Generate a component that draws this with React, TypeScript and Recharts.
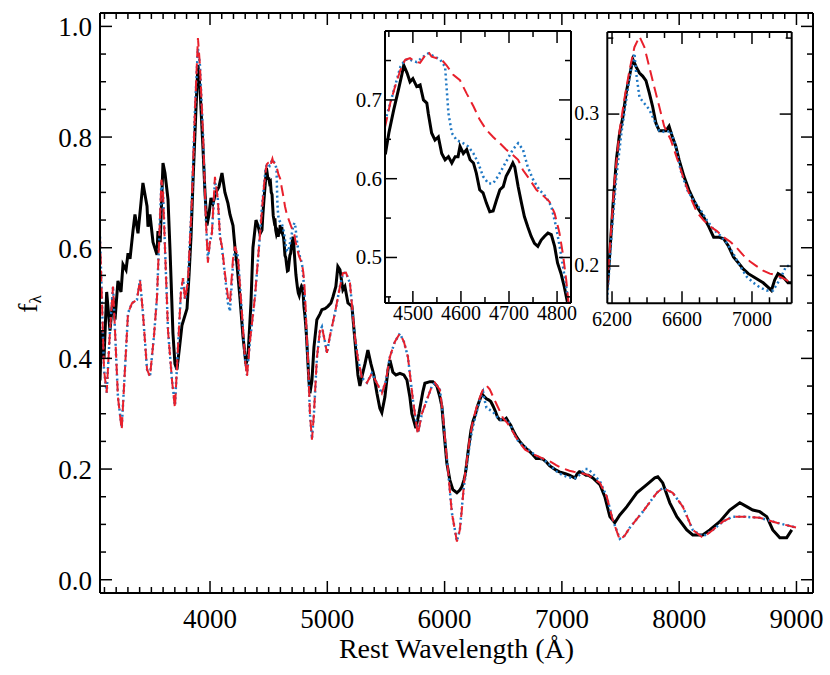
import React from 'react';
import { LineChart, Line, XAxis, YAxis } from 'recharts';

// ---------------- data ----------------
// observed spectrum (black)
const obsWave = [
  3062, 3076, 3096, 3119, 3147, 3173, 3190, 3215, 3241, 3258, 3284, 3301, 3318, 3343, 3360, 3386,
  3428, 3463, 3471, 3488, 3514, 3548, 3556, 3575, 3599, 3616, 3642, 3659, 3684, 3701, 3718, 3740,
  3761, 3804, 3821, 3838, 3855, 3880, 3897, 3914, 3940, 3957, 3974, 3991, 4008, 4025, 4051, 4076,
  4102, 4127, 4153, 4170, 4196, 4213, 4230, 4255, 4281, 4306, 4323, 4349, 4366, 4392, 4409, 4426,
  4443, 4450, 4460, 4470, 4477, 4481, 4488, 4494, 4500, 4508, 4515, 4522, 4529, 4532, 4539, 4546,
  4553, 4560, 4567, 4574, 4581, 4588, 4594, 4598, 4605, 4612, 4619, 4626, 4632, 4639, 4646, 4653,
  4660, 4667, 4674, 4681, 4688, 4694, 4701, 4708, 4712, 4719, 4726, 4732, 4739, 4746, 4753, 4760,
  4767, 4774, 4781, 4788, 4795, 4801, 4808, 4815, 4822, 4843, 4852, 4869, 4886, 4911, 4937, 4954,
  4980, 5005, 5031, 5048, 5073, 5090, 5108, 5133, 5150, 5176, 5210, 5235, 5261, 5278, 5295, 5321,
  5346, 5372, 5397, 5423, 5448, 5465, 5491, 5517, 5534, 5559, 5585, 5619, 5653, 5679, 5704, 5721,
  5755, 5781, 5815, 5832, 5875, 5900, 5934, 5960, 5977, 5994, 6019, 6045, 6070, 6105, 6130, 6147,
  6165, 6177, 6187, 6206, 6225, 6243, 6262, 6281, 6300, 6319, 6338, 6357, 6375, 6394, 6413, 6432,
  6451, 6470, 6489, 6508, 6526, 6545, 6564, 6583, 6611, 6640, 6668, 6696, 6725, 6753, 6781, 6810,
  6838, 6866, 6894, 6923, 6951, 6979, 7008, 7036, 7064, 7093, 7111, 7130, 7149, 7177, 7206, 7225,
  7264, 7324, 7366, 7409, 7451, 7494, 7554, 7639, 7724, 7792, 7818, 7860, 7920, 7980, 8065, 8116,
  8201, 8261, 8346, 8431, 8517, 8576, 8627, 8687, 8747, 8798, 8858, 8917, 8960,
];
const obsFlux = [
  0.36, 0.45, 0.40, 0.52, 0.45, 0.51, 0.47, 0.54, 0.52, 0.57, 0.56, 0.59, 0.58, 0.63, 0.66, 0.626,
  0.717, 0.675, 0.638, 0.66, 0.61, 0.587, 0.63, 0.61, 0.753, 0.735, 0.687, 0.596, 0.445, 0.39, 0.38, 0.42,
  0.46, 0.49, 0.55, 0.62, 0.72, 0.85, 0.93, 0.89, 0.78, 0.70, 0.64, 0.66, 0.69, 0.68, 0.70, 0.71,
  0.735, 0.70, 0.68, 0.66, 0.64, 0.60, 0.57, 0.51, 0.44, 0.39, 0.40, 0.50, 0.60, 0.65, 0.64, 0.625,
  0.632, 0.658, 0.687, 0.713, 0.732, 0.744, 0.734, 0.723, 0.727, 0.717, 0.719, 0.70, 0.696, 0.683, 0.658, 0.649,
  0.653, 0.632, 0.624, 0.628, 0.62, 0.628, 0.628, 0.641, 0.632, 0.637, 0.624, 0.62, 0.607, 0.586, 0.582, 0.569,
  0.558, 0.559, 0.573, 0.586, 0.59, 0.603, 0.611, 0.62, 0.615, 0.59, 0.569, 0.552, 0.539, 0.527, 0.518, 0.514,
  0.522, 0.527, 0.531, 0.529, 0.514, 0.493, 0.48, 0.463, 0.442, 0.36, 0.337, 0.36, 0.42, 0.47, 0.48, 0.488,
  0.49, 0.494, 0.50, 0.511, 0.53, 0.566, 0.56, 0.524, 0.53, 0.50, 0.494, 0.434, 0.37, 0.35, 0.367, 0.39,
  0.415, 0.39, 0.37, 0.337, 0.31, 0.302, 0.33, 0.379, 0.397, 0.375, 0.37, 0.373, 0.37, 0.361, 0.33, 0.30,
  0.274, 0.30, 0.34, 0.355, 0.358, 0.358, 0.35, 0.33, 0.313, 0.27, 0.211, 0.18, 0.163, 0.157, 0.162, 0.168,
  0.18, 0.191, 0.208, 0.241, 0.27, 0.287, 0.298, 0.314, 0.325, 0.336, 0.331, 0.327, 0.325, 0.322, 0.314, 0.305,
  0.294, 0.289, 0.289, 0.289, 0.292, 0.285, 0.279, 0.27, 0.259, 0.25, 0.243, 0.237, 0.232, 0.226, 0.219, 0.219,
  0.218, 0.213, 0.206, 0.202, 0.198, 0.195, 0.193, 0.191, 0.189, 0.186, 0.184, 0.191, 0.195, 0.193, 0.189, 0.189,
  0.184, 0.172, 0.15, 0.114, 0.103, 0.117, 0.132, 0.157, 0.172, 0.184, 0.186, 0.175, 0.139, 0.114, 0.09, 0.081,
  0.081, 0.09, 0.105, 0.126, 0.139, 0.132, 0.126, 0.123, 0.114, 0.09, 0.076, 0.076, 0.09,
];

// model A (red dashed)
const modelAWave = [
  3062, 3079, 3096, 3119, 3147, 3173, 3190, 3215, 3247, 3267, 3301, 3335, 3377, 3403, 3428, 3463,
  3488, 3522, 3548, 3573, 3586, 3599, 3616, 3642, 3676, 3701, 3727, 3752, 3770, 3787, 3812, 3846,
  3872, 3897, 3914, 3940, 3965, 3982, 3999, 4016, 4042, 4067, 4085, 4102, 4127, 4153, 4170, 4196,
  4213, 4238, 4272, 4298, 4315, 4340, 4383, 4417, 4443, 4453, 4463, 4474, 4484, 4494, 4505, 4515,
  4526, 4532, 4539, 4550, 4560, 4570, 4584, 4598, 4612, 4626, 4639, 4653, 4667, 4681, 4694, 4708,
  4719, 4729, 4743, 4757, 4770, 4784, 4795, 4805, 4812, 4819, 4824, 4835, 4852, 4869, 4886, 4911,
  4937, 4954, 4980, 4997, 5022, 5065, 5108, 5133, 5159, 5193, 5235, 5261, 5295, 5338, 5380, 5423,
  5465, 5500, 5534, 5576, 5619, 5653, 5687, 5730, 5772, 5806, 5849, 5892, 5917, 5960, 5985, 6002,
  6028, 6062, 6105, 6130, 6147, 6168, 6187, 6215, 6243, 6272, 6300, 6328, 6357, 6385, 6413, 6441,
  6470, 6498, 6536, 6574, 6611, 6649, 6687, 6725, 6762, 6800, 6838, 6876, 6913, 6951, 6989, 7026,
  7064, 7102, 7140, 7177, 7225, 7324, 7383, 7434, 7494, 7537, 7579, 7690, 7809, 7860, 7945, 8031,
  8116, 8201, 8287, 8372, 8457, 8542, 8687, 8832, 9003,
];
const modelAFlux = [
  0.62, 0.50, 0.38, 0.338, 0.45, 0.53, 0.45, 0.33, 0.271, 0.35, 0.482, 0.50, 0.506, 0.542, 0.482, 0.38,
  0.367, 0.44, 0.511, 0.65, 0.723, 0.70, 0.60, 0.45, 0.36, 0.31, 0.42, 0.52, 0.545, 0.506, 0.54, 0.687,
  0.85, 0.979, 0.93, 0.807, 0.65, 0.573, 0.61, 0.626, 0.728, 0.687, 0.62, 0.602, 0.554, 0.511, 0.50, 0.58,
  0.602, 0.584, 0.482, 0.40, 0.367, 0.43, 0.511, 0.60, 0.668, 0.696, 0.717, 0.738, 0.751, 0.753, 0.749, 0.747,
  0.757, 0.761, 0.755, 0.753, 0.751, 0.744, 0.732, 0.725, 0.708, 0.692, 0.675, 0.662, 0.653, 0.645, 0.637, 0.63,
  0.624, 0.611, 0.599, 0.586, 0.579, 0.571, 0.556, 0.531, 0.505, 0.472, 0.442, 0.40, 0.30, 0.253, 0.30, 0.40,
  0.45, 0.457, 0.43, 0.41, 0.44, 0.482, 0.53, 0.554, 0.555, 0.536, 0.439, 0.40, 0.365, 0.356, 0.373, 0.355,
  0.337, 0.36, 0.403, 0.43, 0.445, 0.43, 0.403, 0.325, 0.262, 0.30, 0.325, 0.35, 0.356, 0.343, 0.30, 0.258,
  0.20, 0.121, 0.069, 0.09, 0.126, 0.18, 0.211, 0.257, 0.289, 0.311, 0.329, 0.344, 0.351, 0.344, 0.331, 0.318,
  0.305, 0.292, 0.283, 0.27, 0.257, 0.245, 0.235, 0.23, 0.226, 0.223, 0.219, 0.216, 0.212, 0.207, 0.203, 0.2,
  0.197, 0.195, 0.194, 0.192, 0.189, 0.175, 0.15, 0.108, 0.072, 0.08, 0.094, 0.123, 0.157, 0.166, 0.157, 0.132,
  0.09, 0.076, 0.09, 0.105, 0.114, 0.114, 0.112, 0.103, 0.094,
];

// model B (blue dotted)
const modelBWave = [
  3062, 3079, 3096, 3119, 3147, 3173, 3190, 3215, 3247, 3267, 3301, 3335, 3377, 3403, 3428, 3463,
  3488, 3522, 3548, 3573, 3586, 3599, 3616, 3642, 3676, 3701, 3727, 3752, 3770, 3787, 3812, 3846,
  3872, 3897, 3914, 3940, 3965, 3982, 3999, 4016, 4042, 4067, 4085, 4102, 4127, 4153, 4170, 4196,
  4213, 4238, 4272, 4298, 4315, 4340, 4383, 4417, 4443, 4453, 4474, 4484, 4494, 4508, 4522, 4532,
  4545, 4557, 4567, 4570, 4574, 4581, 4591, 4605, 4615, 4626, 4636, 4646, 4657, 4667, 4677, 4688,
  4698, 4708, 4719, 4729, 4739, 4750, 4763, 4777, 4788, 4798, 4808, 4819, 4824, 4835, 4852, 4869,
  4886, 4911, 4937, 4954, 4980, 4997, 5022, 5065, 5108, 5133, 5159, 5193, 5235, 5261, 5295, 5338,
  5380, 5423, 5465, 5500, 5534, 5576, 5619, 5653, 5687, 5730, 5772, 5806, 5849, 5892, 5917, 5960,
  5985, 6002, 6028, 6062, 6105, 6130, 6147, 6165, 6177, 6196, 6225, 6253, 6281, 6309, 6328, 6338,
  6357, 6385, 6413, 6441, 6470, 6508, 6536, 6564, 6592, 6630, 6668, 6706, 6743, 6781, 6819, 6857,
  6894, 6932, 6970, 7008, 7045, 7083, 7121, 7158, 7196, 7225, 7324, 7383, 7434, 7494, 7537, 7579,
  7690, 7809, 7860, 7945, 8031, 8116, 8201, 8287, 8372, 8457, 8542, 8687, 8832, 9003,
];
const modelBFlux = [
  0.62, 0.50, 0.38, 0.338, 0.45, 0.53, 0.45, 0.33, 0.275, 0.35, 0.482, 0.50, 0.506, 0.542, 0.482, 0.38,
  0.367, 0.44, 0.511, 0.65, 0.72, 0.70, 0.60, 0.45, 0.36, 0.315, 0.42, 0.52, 0.545, 0.506, 0.54, 0.687,
  0.85, 0.96, 0.93, 0.807, 0.65, 0.58, 0.61, 0.626, 0.72, 0.687, 0.62, 0.60, 0.55, 0.50, 0.485, 0.57,
  0.60, 0.584, 0.482, 0.40, 0.37, 0.43, 0.511, 0.60, 0.675, 0.696, 0.742, 0.751, 0.751, 0.748, 0.755, 0.759,
  0.755, 0.751, 0.742, 0.717, 0.683, 0.658, 0.649, 0.645, 0.641, 0.632, 0.62, 0.603, 0.594, 0.594, 0.603, 0.615,
  0.626, 0.637, 0.645, 0.637, 0.615, 0.599, 0.586, 0.577, 0.565, 0.539, 0.505, 0.463, 0.44, 0.40, 0.30, 0.255,
  0.30, 0.40, 0.45, 0.457, 0.43, 0.41, 0.44, 0.482, 0.53, 0.554, 0.555, 0.536, 0.439, 0.40, 0.365, 0.356,
  0.373, 0.355, 0.337, 0.36, 0.403, 0.43, 0.445, 0.43, 0.403, 0.325, 0.265, 0.30, 0.325, 0.35, 0.356, 0.343,
  0.30, 0.258, 0.20, 0.121, 0.07, 0.09, 0.13, 0.17, 0.186, 0.219, 0.259, 0.287, 0.309, 0.331, 0.34, 0.327,
  0.311, 0.307, 0.303, 0.296, 0.289, 0.288, 0.289, 0.279, 0.263, 0.25, 0.243, 0.237, 0.23, 0.224, 0.22, 0.215,
  0.208, 0.2, 0.193, 0.189, 0.186, 0.184, 0.184, 0.191, 0.2, 0.2, 0.178, 0.15, 0.108, 0.074, 0.08, 0.094,
  0.123, 0.157, 0.166, 0.157, 0.132, 0.09, 0.078, 0.09, 0.105, 0.114, 0.114, 0.112, 0.103, 0.094,
];

// axis ticks
const mainXMajor = [4000, 5000, 6000, 7000, 8000, 9000];
const mainXMinor = [3100, 3200, 3300, 3400, 3500, 3600, 3700, 3800, 3900, 4100, 4200, 4300, 4400, 4500, 4600, 4700, 4800, 4900,
  5100, 5200, 5300, 5400, 5500, 5600, 5700, 5800, 5900, 6100, 6200, 6300, 6400, 6500, 6600, 6700, 6800, 6900,
  7100, 7200, 7300, 7400, 7500, 7600, 7700, 7800, 7900, 8100, 8200, 8300, 8400, 8500, 8600, 8700, 8800, 8900, 9100];
const mainYMajor = [0, 0.2, 0.4, 0.6, 0.8, 1.0];
const mainYMinor = [0.05, 0.1, 0.15, 0.25, 0.3, 0.35, 0.45, 0.5, 0.55, 0.65, 0.7, 0.75, 0.85, 0.9, 0.95];
const in1XMajor = [4500, 4600, 4700, 4800];
const in1XMinor = [4450, 4550, 4650, 4750];
const in1YMajor = [0.5, 0.6, 0.7];
const in1YMinor = [0.45, 0.55, 0.65, 0.75];
const in2XMajor = [6200, 6600, 7000];
const in2XMinor = [6300, 6400, 6500, 6700, 6800, 6900, 7100, 7200];
const in2YMajor = [0.2, 0.3];
const in2YMinor = [0.25, 0.35];

const xTitle = 'Rest Wavelength (Å)';

// ---------------- helpers ----------------
const toData = (w: number[], f: number[]) => w.map((x, i) => ({ w: x, f: f[i] }));
const obsData = toData(obsWave, obsFlux);
const modelAData = toData(modelAWave, modelAFlux);
const modelBData = toData(modelBWave, modelBFlux);

const FONT = '"Liberation Serif", "Times New Roman", Times, serif';
const BLACK = '#000000';
const RED = '#e8202c';
const BLUE = '#1f78c4';

type Side = 'bottom' | 'top' | 'left' | 'right';
interface TickCfg {
  side: Side;
  majors: number[];
  majorLen: number;
  minorLen: number;
  label?: boolean;
  fontSize?: number;
  gap?: number;
  dy?: number;
  fmt?: (v: number) => string;
}
const isIn = (v: number, arr: number[]) => arr.some((m) => Math.abs(m - v) < 1e-6);

function makeTick(cfg: TickCfg) {
  return (props: any) => {
    const { x, y, payload } = props;
    const v = Number(payload.value);
    const major = isIn(v, cfg.majors);
    const len = major ? cfg.majorLen : cfg.minorLen;
    let x2 = x;
    let y2 = y;
    if (cfg.side === 'bottom') y2 = y - len;
    else if (cfg.side === 'top') y2 = y + len;
    else if (cfg.side === 'left') x2 = x + len;
    else x2 = x - len;
    let label: React.ReactNode = null;
    if (cfg.label && major) {
      const txt = cfg.fmt ? cfg.fmt(v) : String(v);
      if (cfg.side === 'bottom') {
        label = (
          <text x={x} y={y + (cfg.gap || 0)} textAnchor="middle" fontFamily={FONT} fontSize={cfg.fontSize} fill="#000">
            {txt}
          </text>
        );
      } else if (cfg.side === 'left') {
        label = (
          <text x={x - (cfg.gap || 0)} y={y + (cfg.dy || 0)} textAnchor="end" fontFamily={FONT} fontSize={cfg.fontSize} fill="#000">
            {txt}
          </text>
        );
      }
    }
    return (
      <g>
        <line x1={x} y1={y} x2={x2} y2={y2} stroke="#000" strokeWidth={1.5} />
        {label}
      </g>
    );
  };
}

const frameLine = { stroke: '#000', strokeWidth: 2 };

interface PanelProps {
  // plot rectangle in page pixels
  left: number;
  top: number;
  right: number;
  bottom: number;
  xDomain: [number, number];
  yDomain: [number, number];
  xMajor: number[];
  xMinor: number[];
  yMajor: number[];
  yMinor: number[];
  majorLen: number;
  minorLen: number;
  xFont: number;
  xGap: number;
  yFont: number;
  yGap: number;
  yDy: number;
  yFmt: (v: number) => string;
  background?: boolean;
  titles?: boolean;
}

function Panel(p: PanelProps) {
  const xTicks = [...p.xMajor, ...p.xMinor].sort((a, b) => a - b);
  const yTicks = [...p.yMajor, ...p.yMinor].sort((a, b) => a - b);
  const common = { tickLine: false, axisLine: frameLine, interval: 0 as const, tickSize: 0, tickMargin: 0, allowDataOverflow: true };
  // every axis is 1px thick, so the margins are one pixel smaller than the plot insets
  const margin = { left: p.left - 1, top: p.top - 1, right: 830 - p.right - 1, bottom: 675 - p.bottom - 1 };
  return (
    <div style={{ position: 'absolute', left: 0, top: 0, width: 830, height: 675 }}>
      {p.background && (
        <div
          style={{
            position: 'absolute',
            left: p.left,
            top: p.top,
            width: p.right - p.left,
            height: p.bottom - p.top,
            background: '#fff',
          }}
        />
      )}
      <div style={{ position: 'absolute', left: 0, top: 0 }}>
        <LineChart width={830} height={675} margin={margin}>
          <XAxis
            xAxisId="b"
            dataKey="w"
            type="number"
            domain={p.xDomain}
            ticks={xTicks}
            height={1}
            {...common}
            tick={makeTick({ side: 'bottom', majors: p.xMajor, majorLen: p.majorLen, minorLen: p.minorLen, label: true, fontSize: p.xFont, gap: p.xGap })}
            label={
              p.titles
                ? (lp: any) => {
                    const vb = lp && lp.viewBox ? lp.viewBox : { x: p.left, y: p.bottom, width: p.right - p.left, height: 1 };
                    return (
                      <text x={vb.x + vb.width / 2} y={vb.y + 65} textAnchor="middle" fontFamily={FONT} fontSize={28} fill="#000">
                        {xTitle}
                      </text>
                    );
                  }
                : undefined
            }
          />
          <XAxis
            xAxisId="t"
            orientation="top"
            dataKey="w"
            type="number"
            domain={p.xDomain}
            ticks={xTicks}
            height={1}
            {...common}
            tick={makeTick({ side: 'top', majors: p.xMajor, majorLen: p.majorLen, minorLen: p.minorLen })}
          />
          <YAxis
            yAxisId="l"
            type="number"
            domain={p.yDomain}
            ticks={yTicks}
            width={1}
            {...common}
            tick={makeTick({ side: 'left', majors: p.yMajor, majorLen: p.majorLen, minorLen: p.minorLen, label: true, fontSize: p.yFont, gap: p.yGap, dy: p.yDy, fmt: p.yFmt })}
            label={
              p.titles
                ? (lp: any) => {
                    const cx = p.left - 63;
                    const cy = (p.top + p.bottom) / 2 + 1;
                    return (
                      <text transform={`rotate(-90 ${cx} ${cy})`} x={cx} y={cy} textAnchor="middle" fontFamily={FONT} fontSize={28} fill="#000">
                        f
                        <tspan fontSize={17} dy={4}>
                          λ
                        </tspan>
                      </text>
                    );
                  }
                : undefined
            }
          />
          <YAxis
            yAxisId="r"
            orientation="right"
            type="number"
            domain={p.yDomain}
            ticks={yTicks}
            width={1}
            {...common}
            tick={makeTick({ side: 'right', majors: p.yMajor, majorLen: p.majorLen, minorLen: p.minorLen })}
          />
          <Line
            xAxisId="b"
            yAxisId="l"
            data={obsData}
            dataKey="f"
            stroke={BLACK}
            strokeWidth={3}
            dot={false}
            activeDot={false}
            isAnimationActive={false}
          />
          <Line
            xAxisId="b"
            yAxisId="l"
            data={modelBData}
            dataKey="f"
            stroke={BLUE}
            strokeWidth={2.5}
            strokeDasharray="2 3"
            dot={false}
            activeDot={false}
            isAnimationActive={false}
          />
          <Line
            xAxisId="b"
            yAxisId="l"
            data={modelAData}
            dataKey="f"
            stroke={RED}
            strokeWidth={2}
            strokeDasharray="11 6"
            dot={false}
            activeDot={false}
            isAnimationActive={false}
          />
        </LineChart>
      </div>
    </div>
  );
}

export default function App() {
  return (
    <div style={{ position: 'absolute', left: 0, top: 0, width: 830, height: 675, background: '#fff' }}>
      <Panel
        left={100}
        top={13}
        right={813}
        bottom={593}
        xDomain={[3062, 9141]}
        yDomain={[-0.024, 1.0242]}
        xMajor={mainXMajor}
        xMinor={mainXMinor}
        yMajor={mainYMajor}
        yMinor={mainYMinor}
        majorLen={12}
        minorLen={6}
        xFont={27}
        xGap={35}
        yFont={27}
        yGap={8}
        yDy={10}
        yFmt={(v) => v.toFixed(1)}
        titles
      />
      <Panel
        left={385}
        top={31}
        right={571}
        bottom={303}
        xDomain={[4442, 4829]}
        yDomain={[0.4422, 0.7875]}
        xMajor={in1XMajor}
        xMinor={in1XMinor}
        yMajor={in1YMajor}
        yMinor={in1YMinor}
        majorLen={12}
        minorLen={6}
        xFont={20}
        xGap={17}
        yFont={21}
        yGap={3}
        yDy={7}
        yFmt={(v) => v.toFixed(1)}
        background
      />
      <Panel
        left={607.3}
        top={32}
        right={791.7}
        bottom={303.3}
        xDomain={[6173, 7227]}
        yDomain={[0.1755, 0.354]}
        xMajor={in2XMajor}
        xMinor={in2XMinor}
        yMajor={in2YMajor}
        yMinor={in2YMinor}
        majorLen={12}
        minorLen={6}
        xFont={20}
        xGap={23}
        yFont={20}
        yGap={8}
        yDy={6}
        yFmt={(v) => v.toFixed(1)}
        background
      />
    </div>
  );
}
